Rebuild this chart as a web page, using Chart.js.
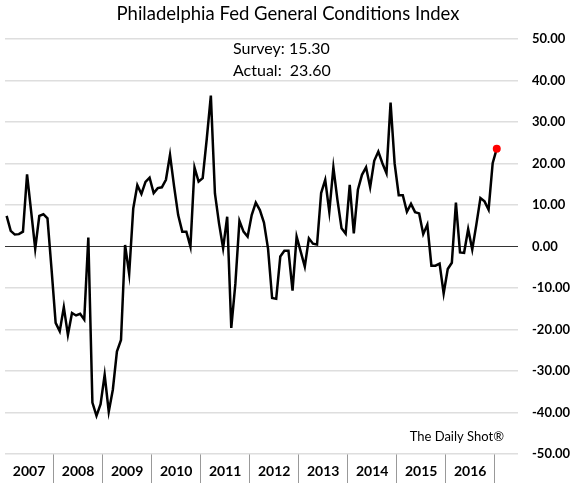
<!DOCTYPE html>
<html>
<head>
<meta charset="utf-8">
<script src="https://cdn.jsdelivr.net/npm/chart.js@4"></script>
<style>
  html, body { margin: 0; padding: 0; background: #fff; }
  canvas { display: block; }
</style>
</head>
<body>
<canvas id="chart" width="571" height="485"></canvas>
<script>
const FONT = 'Lato, "Open Sans", sans-serif';

// year labels under the axis
const yearLabels = ['2007', '2008', '2009', '2010', '2011', '2012', '2013', '2014', '2015', '2016'];

// monthly index, Jan 2007 .. Jan 2017
const generalConditions = [
  7.4, 3.8, 2.9, 3.0, 3.6, 17.4, 8.5, -0.5, 7.4, 7.8, 6.8, -5.5,
  -18.4, -20.4, -14.6, -21.3, -16.0, -16.6, -16.2, -17.6, 2.2, -37.6, -40.8, -38.0,
  -30.9, -39.8, -34.5, -25.3, -22.5, 0.4, -6.6, 9.2, 14.8, 12.7, 15.6, 16.6,
  12.9, 14.1, 14.3, 16.1, 22.1, 14.5, 7.6, 3.6, 3.6, 0.0, 19.1, 15.7,
  16.5, 26.0, 36.4, 12.8, 5.6, -0.4, 7.2, -19.6, -9.0, 6.2, 3.6, 2.4,
  7.6, 10.6, 8.8, 5.8, -0.5, -12.4, -12.6, -2.4, -1.0, -1.0, -10.6, 2.4,
  -1.2, -4.8, 2.0, 0.7, 0.5, 12.9, 16.1, 8.4, 19.1, 11.2, 4.4, 3.1,
  14.9, 3.2, 13.7, 17.3, 19.1, 14.3, 20.7, 22.9, 20.1, 17.7, 34.7, 20.0,
  12.4, 12.4, 8.4, 10.3, 8.3, 8.0, 3.0, 5.3, -4.6, -4.6, -4.1, -11.3,
  -5.4, -3.9, 10.6, -1.4, -1.5, 4.2, -0.7, 5.3, 11.7, 10.9, 8.9, 20.1,
  23.6
];

const survey = 15.30;
const actual = 23.60;

const monthIndex = generalConditions.map((v, i) => i);
const lastIndex = generalConditions.length - 1;

// x ticks: middle of each year carries the label, year ends carry the divider
const isYearMiddle = v => Math.abs((v - 5.5) % 12) < 0.01;

const notes = {
  id: 'notes',
  afterDraw(chart) {
    const ctx = chart.ctx;
    ctx.save();
    ctx.fillStyle = '#000';
    ctx.textBaseline = 'middle';
    ctx.textAlign = 'left';
    ctx.font = '16px ' + FONT;
    ctx.fillText('Survey: ' + survey.toFixed(2), 233, 49);
    ctx.fillText('Actual:  ' + actual.toFixed(2), 233, 71);
    ctx.font = '13px ' + FONT;
    ctx.textAlign = 'right';
    ctx.fillText('The Daily Shot\u00AE', 504, 437);
    ctx.restore();
  }
};

new Chart(document.getElementById('chart'), {
  type: 'line',
  data: {
    labels: monthIndex,
    datasets: [{
      data: generalConditions,
      borderColor: '#000',
      borderWidth: 2.5,
      tension: 0,
      pointRadius: c => c.dataIndex === lastIndex ? 4 : 0,
      pointBackgroundColor: '#ff0000',
      pointBorderWidth: 0
    }]
  },
  options: {
    responsive: false,
    animation: false,
    devicePixelRatio: 1,
    layout: { padding: { left: 5, right: 0, top: 0, bottom: 0 } },
    plugins: {
      legend: { display: false },
      tooltip: { enabled: false },
      title: {
        display: true,
        text: 'Philadelphia Fed General Conditions Index',
        color: '#000',
        font: { family: FONT, size: 18.5, weight: 'normal' },
        padding: { top: 3, bottom: 14 }
      }
    },
    scales: {
      x: {
        type: 'linear',
        min: -0.4,
        max: 125.2,
        afterBuildTicks(scale) {
          const t = [];
          yearLabels.forEach((y, i) => {
            t.push({ value: 12 * i + 5.5 });
            t.push({ value: 12 * i + 11.5 });
          });
          scale.ticks = t;
        },
        afterFit(scale) { scale.height = 31; },
        ticks: {
          autoSkip: false,
          maxRotation: 0,
          padding: -20,
          color: '#000',
          font: { family: FONT, size: 14, weight: 'bold' },
          callback: v => isYearMiddle(v) ? yearLabels[Math.round((v - 5.5) / 12)] : ''
        },
        grid: {
          drawOnChartArea: false,
          tickLength: 29,
          lineWidth: 1,
          color: c => isYearMiddle(c.tick.value) ? 'rgba(0,0,0,0)' : '#999'
        },
        border: { display: false }
      },
      y: {
        position: 'right',
        min: -50,
        max: 50,
        afterFit(scale) { scale.width = 53; },
        ticks: {
          stepSize: 10,
          padding: 14,
          color: '#000',
          font: { family: FONT, size: 13, weight: 'bold' },
          callback: v => v.toFixed(2)
        },
        grid: {
          drawTicks: false,
          color: c => c.tick.value === 0 ? '#333' : '#dedede',
          lineWidth: c => c.tick.value === 0 ? 1 : 1.5
        },
        border: { display: false }
      }
    }
  },
  plugins: [notes]
});
</script>
</body>
</html>
